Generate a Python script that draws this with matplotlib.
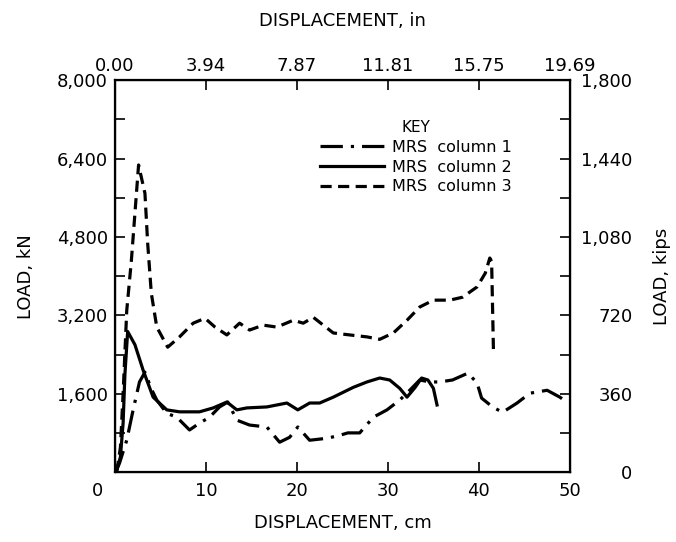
import matplotlib.pyplot as plt
from matplotlib.ticker import MultipleLocator
from matplotlib.transforms import ScaledTranslation

# MRS column 1 (dash-dot)
col1_x = [0.1, 0.5, 1.3, 2.0, 2.7, 3.3, 4.0, 4.6, 5.7, 6.8, 8.2, 9.3, 10.4, 11.5, 12.4,
          13.4, 14.8, 16.7, 18.1, 19.2, 20.1, 21.4, 23.3, 24.7, 25.6, 26.9, 28.4, 29.9,
          31.3, 32.4, 33.5, 34.6, 35.7, 37.1, 38.8, 39.8, 40.3, 41.5, 42.6, 44.2, 45.6,
          47.5, 48.9, 49.8]
col1_y = [0, 180, 650, 1270, 1840, 2040, 1700, 1470, 1200, 1120, 860, 1000, 1120, 1330, 1430,
          1060, 960, 920, 610, 710, 920, 650, 690, 750, 800, 800, 1120, 1270,
          1470, 1670, 1880, 1840, 1840, 1880, 2020, 1820, 1510, 1330, 1220, 1410, 1610,
          1670, 1530, 1410]

# MRS column 2 (solid)
col2_x = [0.1, 0.6, 0.9, 1.1, 1.4, 2.2, 3.1, 4.2, 5.7, 7.1, 9.3, 10.8, 12.3, 13.4, 14.5,
          16.7, 18.9, 20.1, 21.4, 22.5, 24.0, 26.2, 27.7, 29.1, 30.2, 31.3, 32.1, 33.0,
          33.7, 34.4, 35.0, 35.4]
col2_y = [0, 300, 1000, 2000, 2870, 2600, 2080, 1530, 1270, 1230, 1230, 1310, 1430, 1270, 1310,
          1330, 1410, 1270, 1410, 1410, 1530, 1730, 1840, 1920, 1880, 1710, 1530, 1730,
          1920, 1880, 1710, 1370]

# MRS column 3 (dashed)
col3_x = [0.2, 0.6, 0.9, 1.3, 1.8, 2.6, 3.3, 3.6, 4.0, 4.6, 5.8, 7.1, 8.6, 9.9, 11.0,
          12.3, 13.7, 14.8, 16.3, 17.8, 19.6, 20.7, 21.8, 24.0, 25.8, 27.7, 29.1, 30.6,
          32.1, 33.5, 35.0, 36.8, 38.2, 39.8, 40.7, 41.2, 41.4, 41.6]
col3_y = [0, 500, 1600, 3300, 4300, 6270, 5690, 4670, 3650, 2960, 2550, 2760, 3040, 3140, 2960,
          2800, 3040, 2900, 3000, 2960, 3100, 3040, 3160, 2840, 2800, 2760, 2710, 2840,
          3100, 3370, 3510, 3510, 3570, 3780, 4060, 4370, 4300, 2490]

cm_ticks = [0, 10, 20, 30, 40, 50]
in_labels = ["0.00", "3.94", "7.87", "11.81", "15.75", "19.69"]
kn_ticks = [0, 1600, 3200, 4800, 6400, 8000]
kn_labels = ["", "1,600", "3,200", "4,800", "6,400", "8,000"]
kip_ticks = [0, 360, 720, 1080, 1440, 1800]
kip_labels = ["0", "360", "720", "1,080", "1,440", "1,800"]

plt.rcParams['font.family'] = ['DejaVu Sans']
fs = 13

fig = plt.figure(figsize=(6.76, 5.42), dpi=100)
ax = fig.add_axes([0.170, 0.129, 0.673, 0.723])

lw = 2.3
ax.plot(col1_x, col1_y, color='black', lw=lw, linestyle=(0, (7, 2.5, 1, 2.5)), label="MRS  column 1")
ax.plot(col2_x, col2_y, color='black', lw=lw, linestyle='-', label="MRS  column 2")
ax.plot(col3_x, col3_y, color='black', lw=lw, linestyle=(0, (3.5, 2)), label="MRS  column 3")

ax.set_xlim(0, 50)
ax.set_ylim(0, 8000)
ax.set_xticks(cm_ticks)
ax.set_xticklabels([str(t) for t in cm_ticks], fontsize=fs)
ax.set_yticks(kn_ticks)
ax.set_yticklabels(kn_labels, fontsize=fs)
ax.yaxis.set_minor_locator(MultipleLocator(800))
ax.tick_params(axis='both', which='both', direction='in', width=1.2)
ax.tick_params(axis='x', which='major', length=7, pad=7)
ax.tick_params(axis='y', which='major', length=7, pad=5)
ax.tick_params(axis='y', which='minor', length=7)
ax.set_xlabel("DISPLACEMENT, cm", fontsize=fs, labelpad=10)
ax.set_ylabel("LOAD, kN", fontsize=fs, labelpad=16)
for s in ax.spines.values():
    s.set_linewidth(1.6)
# the "0" under the origin sits a bit to the left in the original
zero_lab = ax.get_xticklabels()[0]
zero_lab.set_transform(zero_lab.get_transform() + ScaledTranslation(-0.17, 0, fig.dpi_scale_trans))

top = ax.twiny()
top.set_xlim(0, 50)
top.set_xticks(cm_ticks)
top.set_xticklabels(in_labels, fontsize=fs)
top.tick_params(axis='x', direction='in', length=7, width=1.2, pad=4)
top.set_xlabel("DISPLACEMENT, in", fontsize=fs, labelpad=22)

right = ax.twinx()
right.set_ylim(0, 1800)
right.set_yticks(kip_ticks)
right.set_yticklabels(kip_labels, fontsize=fs)
right.yaxis.set_minor_locator(MultipleLocator(180))
right.tick_params(axis='y', which='both', direction='in', length=7, width=1.2, pad=45)
for lab in right.get_yticklabels():
    lab.set_horizontalalignment('right')
right.set_ylabel("LOAD, kips", fontsize=fs, labelpad=15)

leg = ax.legend(loc='upper left', bbox_to_anchor=(0.42, 0.935), frameon=False,
                fontsize=11.5, title="KEY", title_fontsize=11,
                handlelength=4.0, handletextpad=0.5, labelspacing=0.3)

fig.savefig("out.png", dpi=100)
